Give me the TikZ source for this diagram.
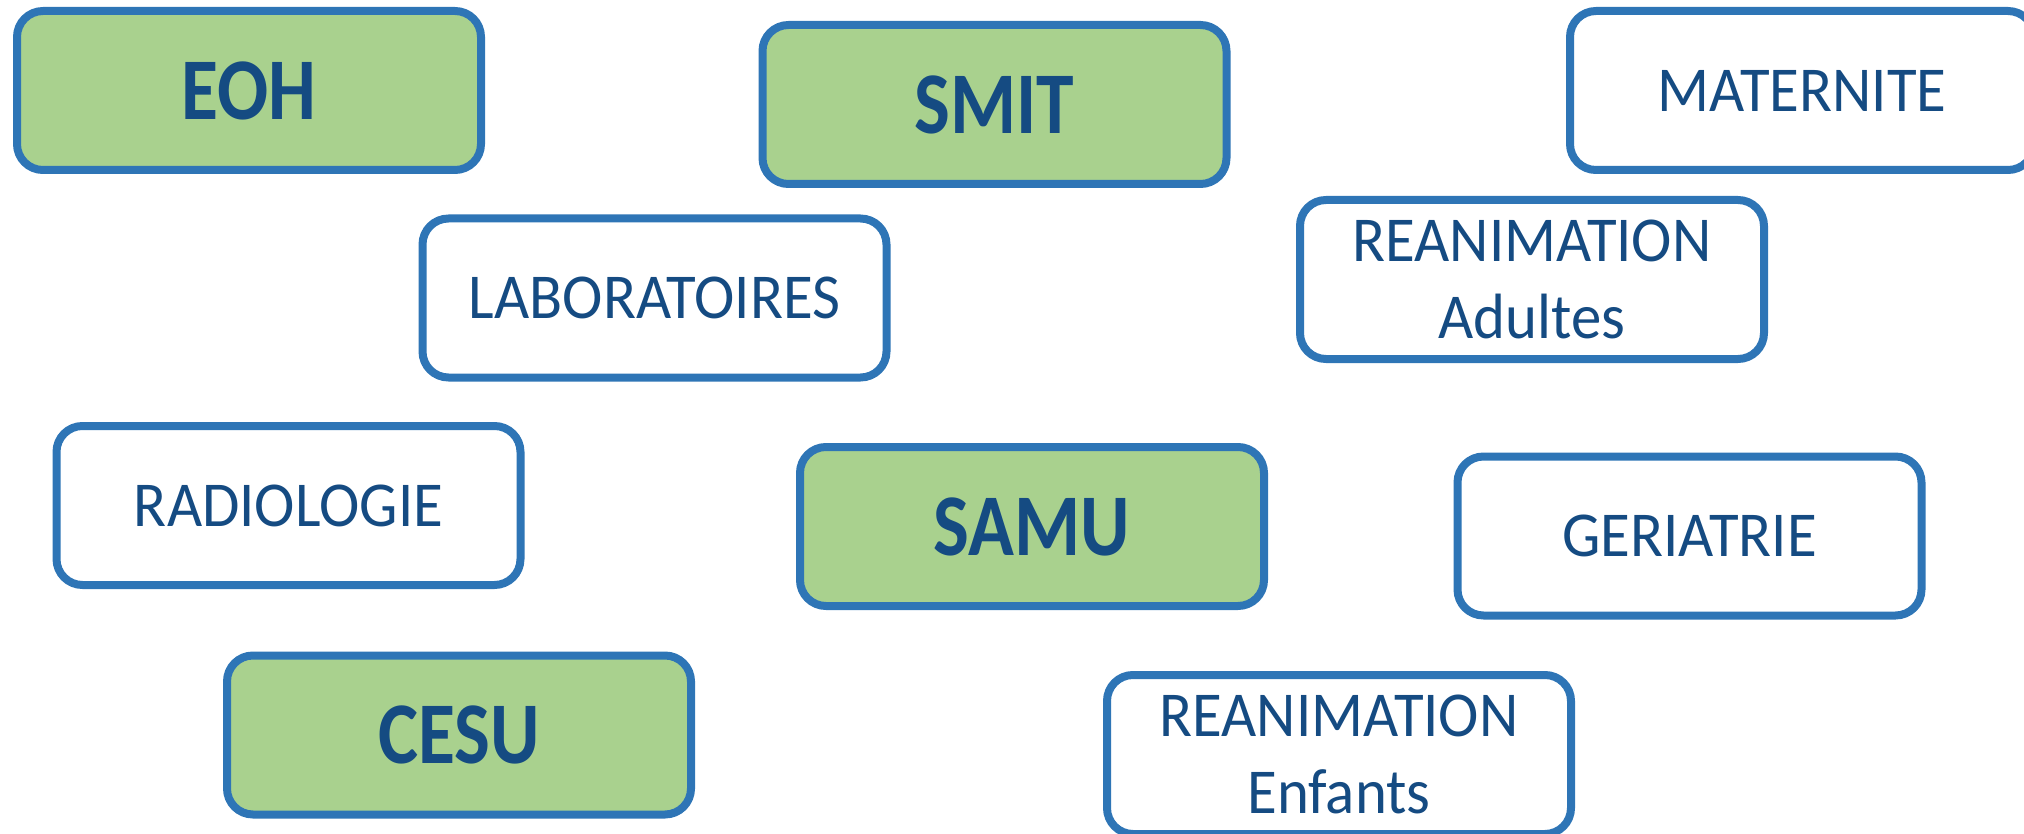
\documentclass[tikz,border=0pt]{standalone}
\usepackage{fontspec}
\setmainfont{Carlito}
\newfontfamily\unitfont[FakeStretch=0.95]{Carlito}
\newfontfamily\keyfont[FakeStretch=0.86]{Carlito}
\definecolor{boxblue}{HTML}{2E75B6}
\definecolor{textblue}{HTML}{154B82}
\definecolor{boxgreen}{HTML}{A9D18E}
\tikzset{
    unitbox/.style={draw=boxblue, line width=4pt, rounded corners=13pt, fill=white,
        minimum width=232pt, minimum height=79.5pt, inner sep=0pt, align=center,
        text=textblue, font=\unitfont\fontsize{32}{38.5}\selectfont},
    keybox/.style={unitbox, fill=boxgreen, font=\keyfont\bfseries\fontsize{44}{50}\selectfont}
}
\begin{document}
\begin{tikzpicture}[x=0.5pt, y=-0.5pt]
        \useasboundingbox (0,0) rectangle (2024,834);
        % key services
        \node[keybox] (eoh)  at (249, 90.5)  {EOH};
        \node[keybox] (smit) at (994.5, 104.5) {SMIT};
        \node[keybox] (samu) at (1032, 526.5) {SAMU};
        \node[keybox] (cesu) at (459, 735)   {CESU};

        % other units
        \node[unitbox] (maternite) at (1802, 90.5)  {MATERNITE};
        \node[unitbox] (labo)      at (654.5, 298)  {LABORATOIRES};
        \node[unitbox] (reaadu)    at (1532, 279.5) {REANIMATION\\Adultes};
        \node[unitbox] (radio)     at (288.5, 505.5) {RADIOLOGIE};
        \node[unitbox] (geria)     at (1689.5, 536) {GERIATRIE};
        \node[unitbox] (reaenf)    at (1339, 754.5) {REANIMATION\\Enfants};
    \end{tikzpicture}
\end{document}
